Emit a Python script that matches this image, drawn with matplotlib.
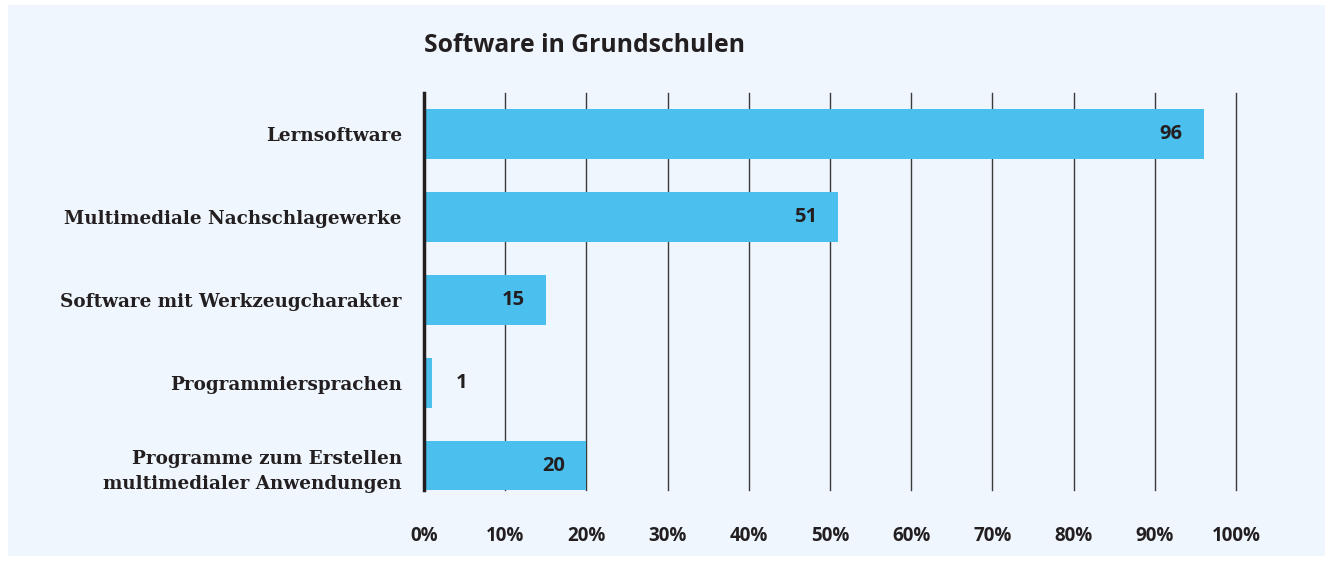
import matplotlib.pyplot as plt
import matplotlib.patches as patches

categories = ["Lernsoftware", "Multimediale Nachschlagewerke", "Software mit Werkzeugcharakter",
              "Programmiersprachen", "Programme zum Erstellen\nmultimedialer Anwendungen"]
values = [96, 51, 15, 1, 20]
ticks = list(range(0, 101, 10))
tick_labels = [f"{t}%" for t in ticks]

bg = "#eff6fd"
bar_color = "#4bbfed"
dark = "#231f20"

fig = plt.figure(figsize=(13.32, 5.64), dpi=100, facecolor="white")
# light blue panel
fig.patches.append(patches.Rectangle((8 / 1332, 8 / 564), 1317 / 1332, 551 / 564,
                                     transform=fig.transFigure, facecolor=bg, edgecolor="none", zorder=-1))

ax = fig.add_axes([424 / 1332, 1 - 490 / 564, 812 / 1332, 397 / 564])
ax.set_zorder(2)
ax.set_facecolor("none")

y = list(range(len(categories)))
ax.barh(y, values, height=0.6, color=bar_color, zorder=2)

# gridlines
for t in ticks[1:]:
    ax.axvline(t, color="#3a3a3a", linewidth=1.0, zorder=1, clip_on=False)
ax.axvline(0, color=dark, linewidth=2.5, zorder=3, clip_on=False)

for yi, v in zip(y, values):
    if v >= 10:
        ax.text(v - 2.6, yi, str(v), ha="right", va="center", fontsize=14.5,
                fontweight="bold", family="Open Sans", color=dark, zorder=4)
    else:
        ax.text(v + 2.9, yi, str(v), ha="left", va="center", fontsize=14.5,
                fontweight="bold", family="Open Sans", color=dark, zorder=4)

ax.set_xlim(0, 100)
ax.set_ylim(4.295, -0.494)
ax.set_xticks(ticks)
ax.set_xticklabels(tick_labels, fontsize=13.5, fontweight="bold", family="Open Sans", color=dark)
ax.set_yticks(y)
ax.set_yticklabels(categories, fontsize=13.2, fontweight="bold", family="DejaVu Serif",
                   color=dark, ha="right", linespacing=1.5)
ax.tick_params(axis="both", length=0)
ax.tick_params(axis="x", pad=26)
ax.tick_params(axis="y", pad=16)
for s in ax.spines.values():
    s.set_visible(False)

fig.text(424 / 1332, 1 - 46 / 564, "Software in Grundschulen", fontsize=17.8, fontweight="bold",
         family="Open Sans", color=dark, ha="left", va="center")

fig.savefig("out.png", dpi=100, facecolor="white")
